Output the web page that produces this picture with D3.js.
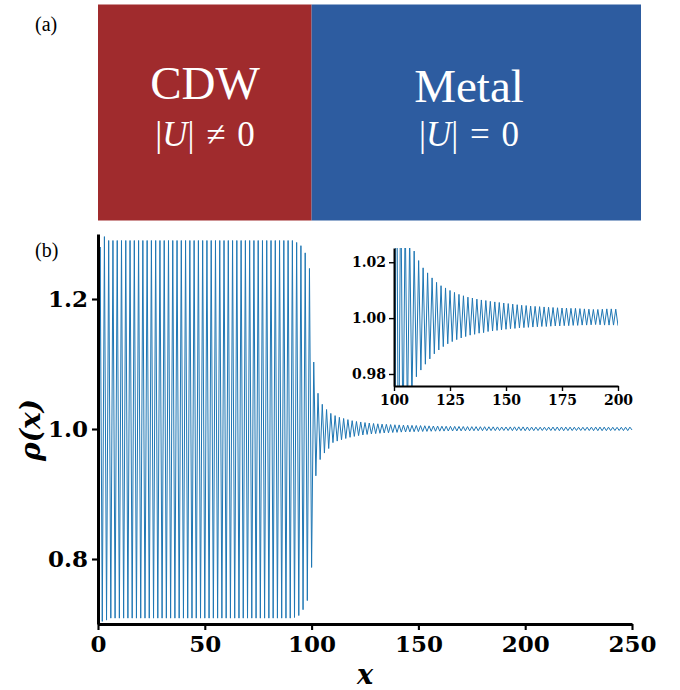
<!DOCTYPE html>
<html>
<head>
<meta charset="utf-8">
<script src="https://cdn.jsdelivr.net/npm/d3@7"></script>
<style>
body { margin: 0; background: #fff; }
</style>
</head>
<body>
<svg id="fig" width="680" height="690"></svg>
<script>

// density rho(x) at sites x = 0..250
var rho = [
	0.700, 1.280, 0.704, 1.296, 0.706, 1.290, 0.709, 1.290, 0.709, 1.290,
	0.709, 1.290, 0.709, 1.290, 0.709, 1.290, 0.709, 1.290, 0.709, 1.290,
	0.709, 1.290, 0.709, 1.290, 0.709, 1.290, 0.709, 1.290, 0.709, 1.290,
	0.709, 1.290, 0.709, 1.290, 0.709, 1.290, 0.709, 1.290, 0.709, 1.290,
	0.709, 1.290, 0.709, 1.290, 0.709, 1.290, 0.709, 1.290, 0.709, 1.290,
	0.709, 1.290, 0.709, 1.290, 0.709, 1.290, 0.709, 1.290, 0.709, 1.290,
	0.709, 1.290, 0.709, 1.290, 0.709, 1.290, 0.709, 1.290, 0.709, 1.290,
	0.709, 1.290, 0.709, 1.290, 0.709, 1.290, 0.709, 1.290, 0.709, 1.290,
	0.709, 1.290, 0.709, 1.290, 0.709, 1.290, 0.709, 1.290, 0.709, 1.290,
	0.709, 1.290, 0.710, 1.287, 0.713, 1.282, 0.722, 1.271, 0.736, 1.247,
	0.787, 1.103, 0.928, 1.055, 0.953, 1.038, 0.963, 1.030, 0.970, 1.024,
	0.9790, 1.0206, 0.9814, 1.0180, 0.9835, 1.0162, 0.9854, 1.0144, 0.9872, 1.0128,
	0.9886, 1.0116, 0.9898, 1.0108, 0.9908, 1.0099, 0.9916, 1.0092, 0.9923, 1.0085,
	0.9929, 1.0080, 0.9934, 1.0075, 0.9939, 1.0072, 0.9942, 1.0068, 0.9946, 1.0065,
	0.9948, 1.0063, 0.9952, 1.0060, 0.9954, 1.0058, 0.9956, 1.0056, 0.9958, 1.0054,
	0.9960, 1.0052, 0.9962, 1.0050, 0.9963, 1.0048, 0.9965, 1.0046, 0.9966, 1.0045,
	0.9967, 1.0043, 0.9968, 1.0042, 0.9969, 1.0041, 0.9970, 1.0040, 0.9970, 1.0039,
	0.9971, 1.0038, 0.9972, 1.0037, 0.9972, 1.0036, 0.9973, 1.0036, 0.9973, 1.0035,
	0.9974, 1.0035, 0.9974, 1.0034, 0.9975, 1.0033, 0.9975, 1.0032, 0.9976, 1.0031,
	0.9977, 1.0031, 0.9976, 1.0032, 0.9975, 1.0033, 0.9975, 1.0033, 0.9975, 1.0032,
	0.9973, 1.0031, 0.9974, 1.0030, 0.9975, 1.0029, 0.9976, 1.0028, 0.9977, 1.0028,
	0.9977, 1.0029, 0.9976, 1.0030, 0.9975, 1.0031, 0.9974, 1.0031, 0.9974, 1.0030,
	0.9975, 1.0029, 0.9976, 1.0028, 0.9977, 1.0027, 0.9977, 1.0027, 0.9977, 1.0028,
	0.9976, 1.0029, 0.9975, 1.0030, 0.9974, 1.0030, 0.9974, 1.0029, 0.9975, 1.0028,
	0.9976, 1.0027, 0.9977, 1.0026, 0.9977, 1.0027, 0.9976, 1.0028, 0.9975, 1.0029,
	0.9985
];

var xTicks = [0, 50, 100, 150, 200, 250];
var yTicks = [0.8, 1.0, 1.2];
var insetXTicks = [100, 125, 150, 175, 200];
var insetYTicks = [0.98, 1.00, 1.02];

var phaseNames = ["CDW", "Metal"];
var phaseRules = ["\u2260", "="];
var phaseEdges = [0, 100];

var svg = d3.select("#fig");
var blue = "#1f77b4";
var tickFont = "'DejaVu Serif', serif";

// ---- (a) phase boxes
var x = d3.scaleLinear().domain([0, 250]).range([98, 632]);
var boxColor = ["#a02b2d", "#2d5ca0"];
var boxRight = [x(100), 641];
var boxCenter = [205, 469];

phaseNames.forEach(function(name, i) {
	var x0 = x(phaseEdges[i]);
	svg.append("rect")
		.attr("x", x0).attr("y", 4.5)
		.attr("width", boxRight[i] - x0).attr("height", 216)
		.attr("fill", boxColor[i]);
	svg.append("text")
		.attr("x", boxCenter[i]).attr("y", i == 0 ? 99 : 102)
		.attr("text-anchor", "middle")
		.attr("fill", "#fff")
		.style("font-family", "'Liberation Serif', serif")
		.style("font-size", "47px")
		.text(name);
	var t = svg.append("text")
		.attr("x", boxCenter[i]).attr("y", 146)
		.attr("text-anchor", "middle")
		.attr("fill", "#fff")
		.style("font-family", "'Liberation Serif', serif")
		.style("font-size", "35px")
		.style("word-spacing", "3px");
	t.append("tspan").text("|");
	t.append("tspan").style("font-style", "italic").text("U");
	t.append("tspan").text("| " + phaseRules[i] + " 0");
});

svg.append("text").attr("x", 35).attr("y", 31)
	.style("font-family", "'Liberation Serif', serif").style("font-size", "20px")
	.text("(a)");
svg.append("text").attr("x", 35).attr("y", 257)
	.style("font-family", "'Liberation Serif', serif").style("font-size", "20px")
	.text("(b)");

// ---- (b) main plot
var y = d3.scaleLinear().domain([0.7, 1.3]).range([624, 234]);

var line = d3.line()
	.x(function(d, i) { return x(i); })
	.y(function(d) { return y(d); });

svg.append("path")
	.datum(rho)
	.attr("d", line)
	.attr("fill", "none")
	.attr("stroke", blue)
	.attr("stroke-width", 1);

function styleAxis(g, fontSize, spineW) {
	g.select(".domain").attr("stroke", "#000").attr("stroke-width", spineW);
	g.selectAll(".tick line").attr("stroke", "#000").attr("stroke-width", spineW * 0.7);
	g.selectAll(".tick text")
		.attr("fill", "#000")
		.style("font-family", tickFont)
		.style("font-weight", "bold")
		.style("font-size", fontSize + "px");
}

var gx = svg.append("g").attr("transform", "translate(0,624)")
	.call(d3.axisBottom(x).tickValues(xTicks).tickSize(6).tickSizeOuter(0).tickPadding(6)
		.tickFormat(d3.format("d")));
styleAxis(gx, 23, 3);

var gy = svg.append("g").attr("transform", "translate(98,0)")
	.call(d3.axisLeft(y).tickValues(yTicks).tickSize(6).tickSizeOuter(0).tickPadding(4)
		.tickFormat(d3.format(".1f")));
styleAxis(gy, 23, 3);

svg.append("text")
	.attr("transform", "translate(40,430) rotate(-90)")
	.attr("text-anchor", "middle")
	.style("font-family", tickFont).style("font-weight", "bold").style("font-style", "italic")
	.style("font-size", "28px")
	.text("\u03c1(x)");

svg.append("text")
	.attr("x", 365).attr("y", 684)
	.attr("text-anchor", "middle")
	.style("font-family", tickFont).style("font-weight", "bold").style("font-style", "italic")
	.style("font-size", "27px")
	.text("x");

// ---- inset
var ix = d3.scaleLinear().domain([100, 200]).range([394, 618]);
var iy = d3.scaleLinear().domain([0.9757, 1.0251]).range([386, 248]);

svg.append("clipPath").attr("id", "insetClip")
	.append("rect")
	.attr("x", ix(100)).attr("y", iy(1.0251))
	.attr("width", ix(200) - ix(100)).attr("height", iy(0.9757) - iy(1.0251));

var insetData = rho.slice(100, 201);
svg.append("path")
	.datum(insetData)
	.attr("clip-path", "url(#insetClip)")
	.attr("d", d3.line()
		.x(function(d, i) { return ix(100 + i); })
		.y(function(d) { return iy(d); }))
	.attr("fill", "none")
	.attr("stroke", blue)
	.attr("stroke-width", 1);

var igx = svg.append("g").attr("transform", "translate(0,386)")
	.call(d3.axisBottom(ix).tickValues(insetXTicks).tickSize(5).tickSizeOuter(0).tickPadding(4)
		.tickFormat(d3.format("d")));
styleAxis(igx, 14, 2);

var igy = svg.append("g").attr("transform", "translate(394,0)")
	.call(d3.axisLeft(iy).tickValues(insetYTicks).tickSize(5).tickSizeOuter(0).tickPadding(3)
		.tickFormat(d3.format(".2f")));
styleAxis(igy, 14, 2);

</script>
</body>
</html>
